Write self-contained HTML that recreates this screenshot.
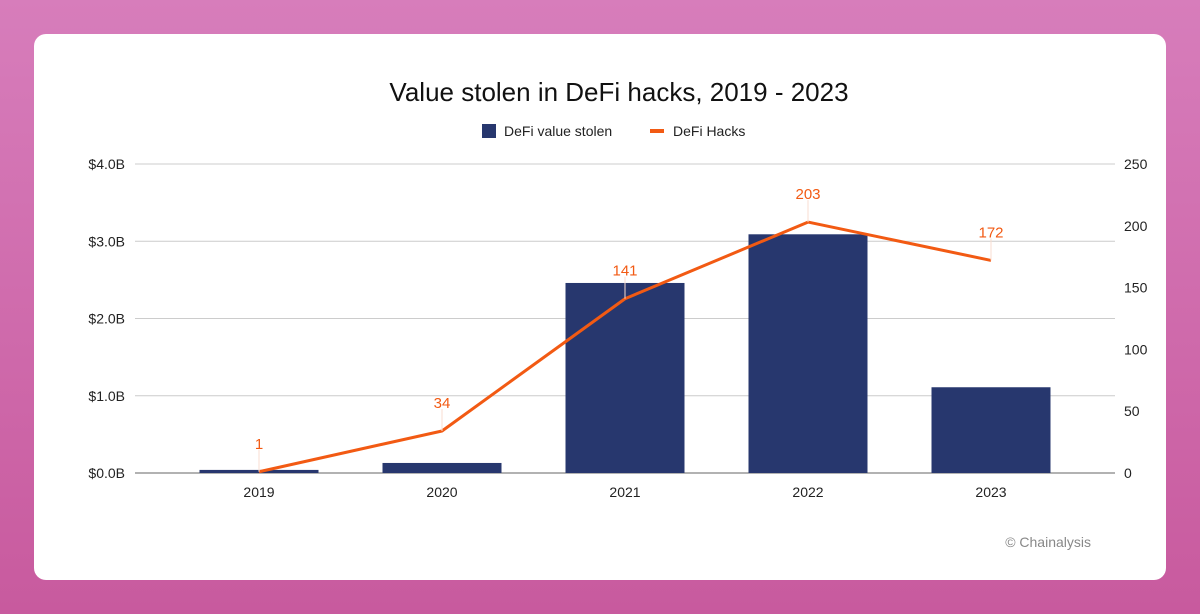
<!DOCTYPE html>
<html><head><meta charset="utf-8"><style>
html,body{margin:0;padding:0;width:1200px;height:614px;overflow:hidden}
body{background:linear-gradient(180deg,#d77dbb 0%,#c85a9e 100%);font-family:"Liberation Sans",sans-serif}
#card{position:absolute;left:34px;top:34px;width:1132px;height:546px;background:#fff;border-radius:12px}
</style></head><body>
<div id="card"></div>
<svg id="chart" width="1200" height="614" style="position:absolute;left:0;top:0">
<text x="619" y="101" text-anchor="middle" font-size="26" fill="#111">Value stolen in DeFi hacks, 2019 - 2023</text>
<g>
<rect x="482" y="124" width="14" height="14" fill="#27376e"/>
<text x="504" y="136" font-size="14" fill="#222">DeFi value stolen</text>
<rect x="650" y="129" width="14" height="4" fill="#f25a13"/>
<text x="673" y="136" font-size="14" fill="#222">DeFi Hacks</text>
</g>
<g id="grid"></g><g id="bars"></g><g id="line"></g><g id="axes"></g>
<text x="1091" y="547" text-anchor="end" font-size="14" fill="#888">© Chainalysis</text>
</svg>
<script>
const years=["2019","2020","2021","2022","2023"];
const valueStolen=[0.04,0.13,2.46,3.09,1.11];
const hacks=[1,34,141,203,172];
const leftTicks=[0,1,2,3,4];
const leftTickLabels=["$0.0B","$1.0B","$2.0B","$3.0B","$4.0B"];
const rightTicks=[0,50,100,150,200,250];
const NS="http://www.w3.org/2000/svg";
const y0=473,yTop=164,xL=135,xR=1115,x0=259,step=183,bw=119;
const yL=v=>y0-(v/4)*(y0-yTop);
const yR=v=>y0-(v/250)*(y0-yTop);
const xC=i=>x0+i*step;
function mk(t,a,p){const e=document.createElementNS(NS,t);for(const k in a)e.setAttribute(k,a[k]);p.appendChild(e);return e;}
const grid=document.getElementById('grid'),axes=document.getElementById('axes'),bars=document.getElementById('bars'),line=document.getElementById('line');
leftTicks.forEach((v,i)=>{
 const g=mk('line',{x1:xL,x2:xR,y1:yL(v),y2:yL(v),stroke:v===0?'#666':'#ccc','stroke-width':1},grid);
 
 
 const t=mk('text',{x:125,y:yL(v)+5,'text-anchor':'end','font-size':14,fill:'#222'},axes);t.textContent=leftTickLabels[i];
 
 
});
rightTicks.forEach(v=>{
 const t=mk('text',{x:1124,y:yR(v)+5,'font-size':14,fill:'#222'},axes);t.textContent=v;
 
 
});
years.forEach((y,i)=>{
 const r=mk('rect',{x:xC(i)-bw/2,y:yL(valueStolen[i]),width:bw,height:y0-yL(valueStolen[i]),fill:'#27376e'},bars);
 
 
 const t=mk('text',{x:xC(i),y:497,'text-anchor':'middle','font-size':14,fill:'#222'},axes);t.textContent=y;
 
 
});
const pts=hacks.map((v,i)=>xC(i)+','+yR(v)).join(' ');
const pl=mk('polyline',{points:pts,fill:'none',stroke:'#f25a13','stroke-width':3,'stroke-linejoin':'round'},line);


hacks.forEach((v,i)=>{
 const l=mk('line',{x1:xC(i),x2:xC(i),y1:yR(v)-22,y2:yR(v),stroke:'#f8ddd0','stroke-width':1},line);
 
 
 const t=mk('text',{x:xC(i),y:yR(v)-23,'text-anchor':'middle','font-size':15,fill:'#f25a13'},line);t.textContent=v;
 
 
});
</script>
</body></html>
